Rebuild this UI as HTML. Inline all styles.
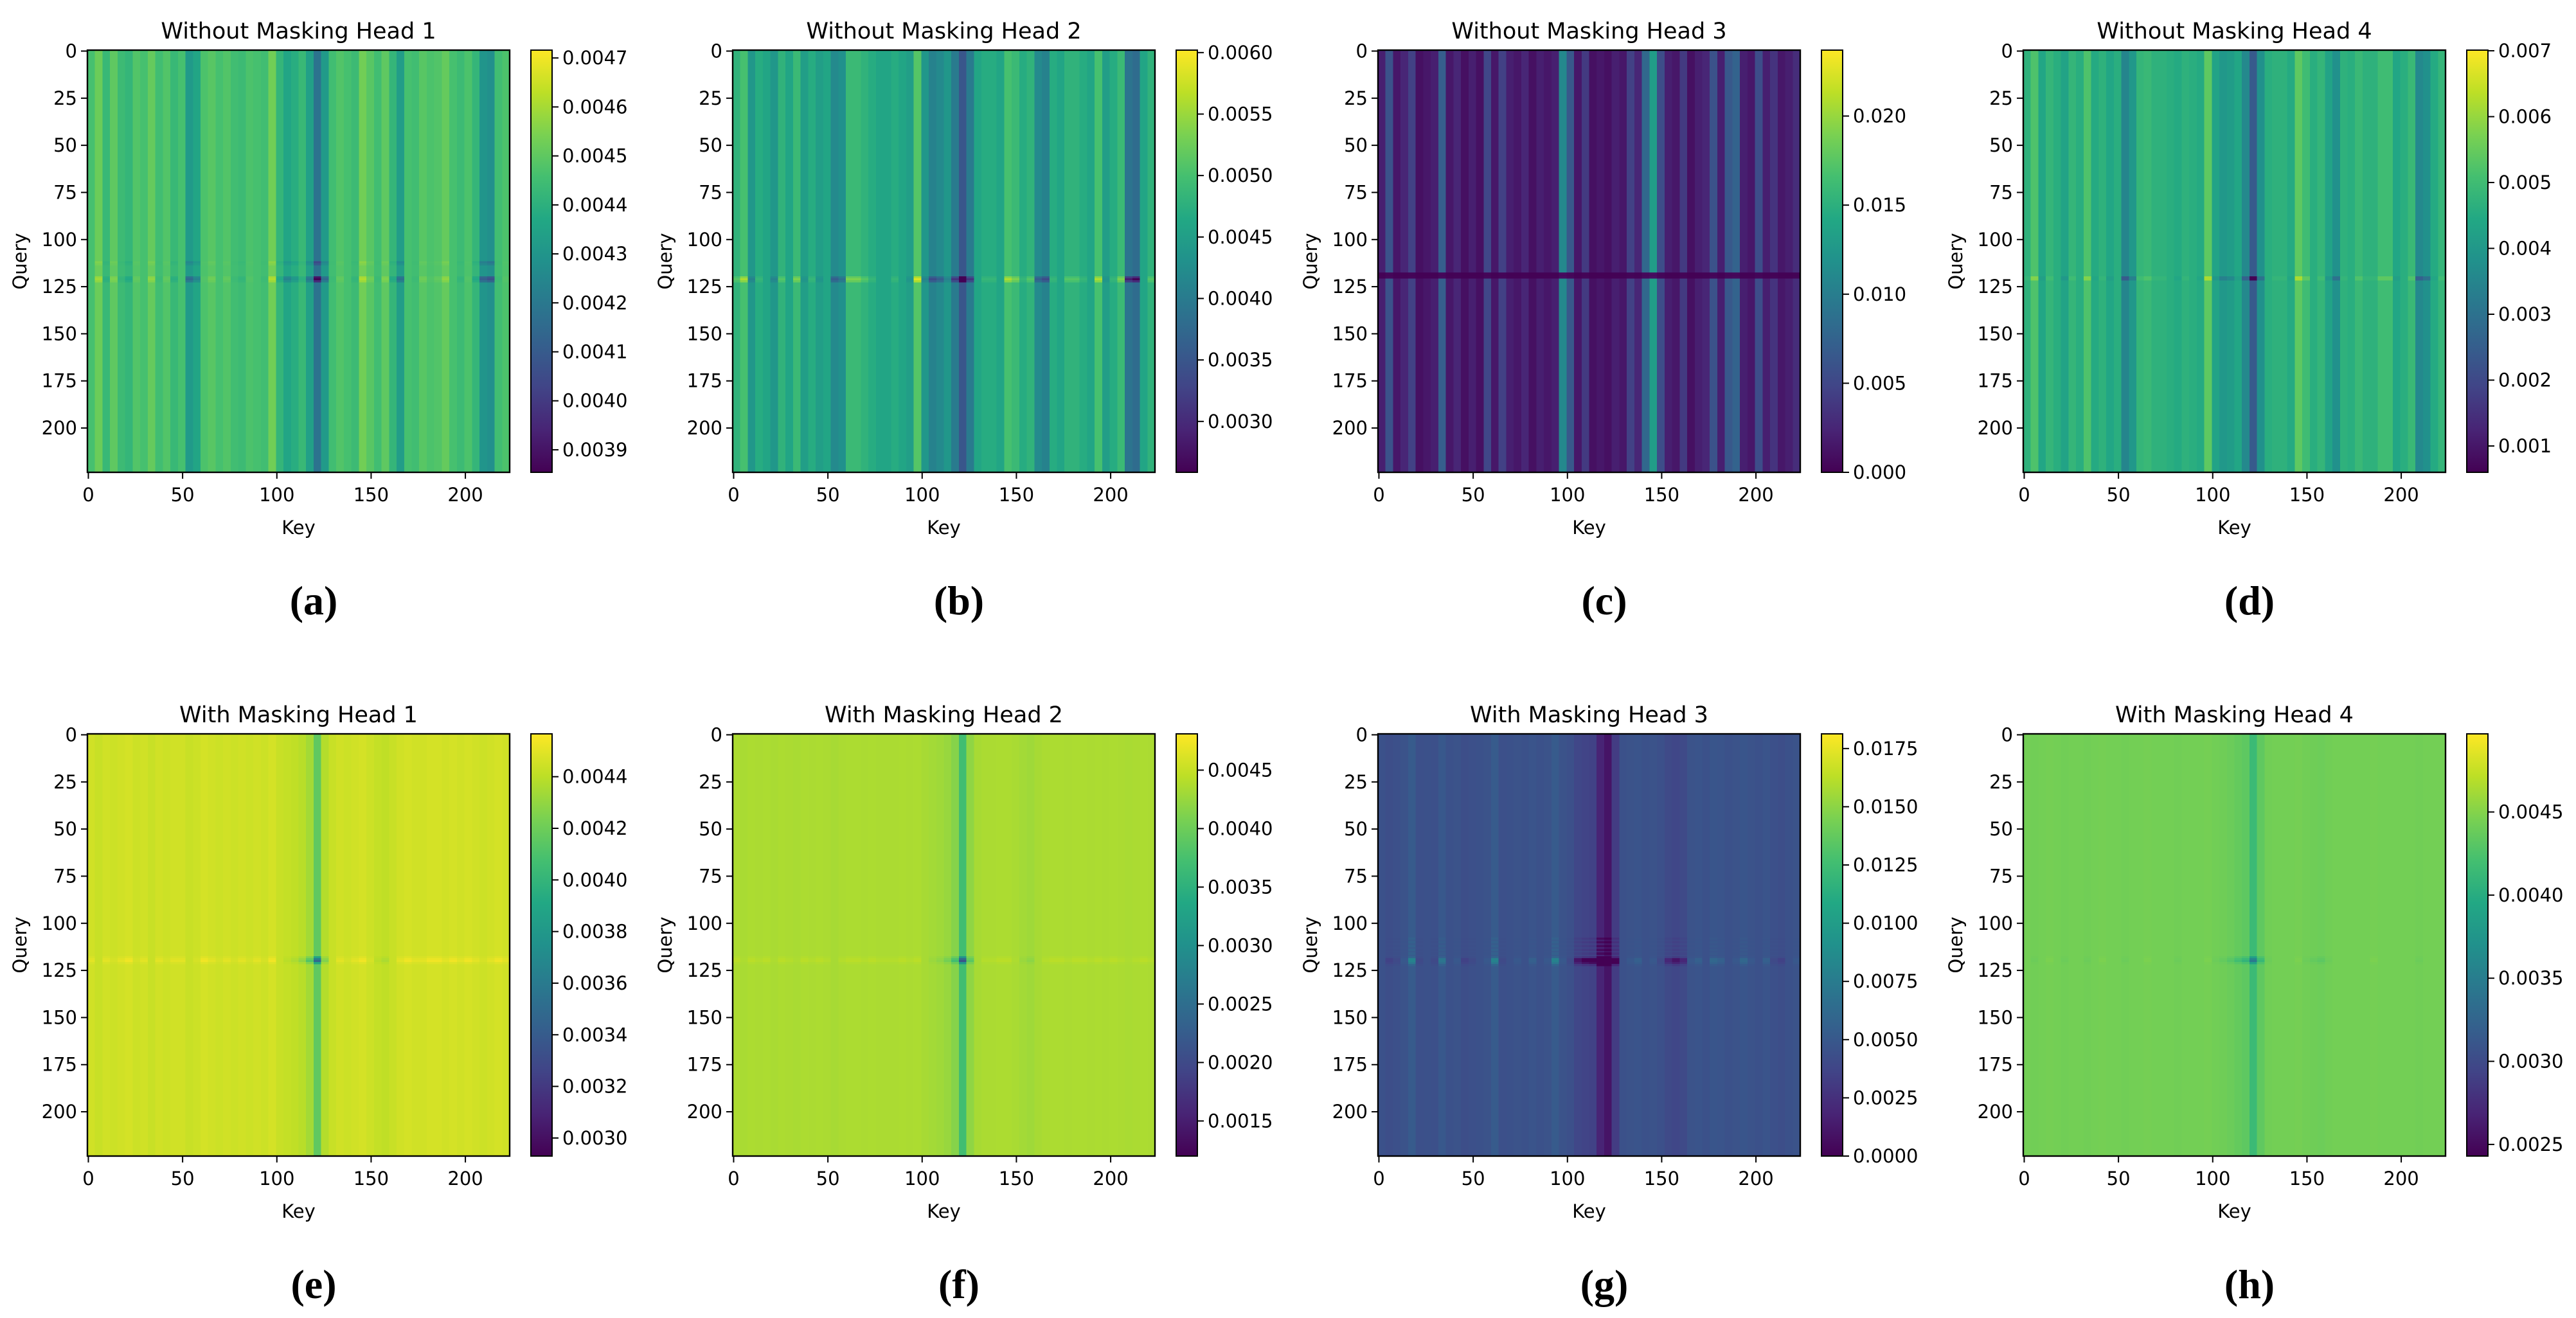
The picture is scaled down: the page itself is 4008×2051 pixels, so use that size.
<!DOCTYPE html>
<html><head><meta charset="utf-8"><style>
html,body{margin:0;padding:0;background:#fff}
svg{display:block}
text{font-family:"DejaVu Sans","Liberation Sans",sans-serif;fill:#000}
.cap{font-family:"Liberation Serif",serif;font-weight:bold;font-size:64px}
</style></head><body>
<svg id="fig" width="4008" height="2051" viewBox="0 0 4008 2051" xmlns="http://www.w3.org/2000/svg">
<defs>
<linearGradient id="vir" x1="0" y1="1" x2="0" y2="0">
<stop offset="0" stop-color="#440154"/><stop offset="0.1" stop-color="#482475"/><stop offset="0.2" stop-color="#414487"/><stop offset="0.3" stop-color="#355f8d"/><stop offset="0.4" stop-color="#2a788e"/><stop offset="0.5" stop-color="#21918c"/><stop offset="0.6" stop-color="#22a884"/><stop offset="0.7" stop-color="#44bf70"/><stop offset="0.8" stop-color="#7ad151"/><stop offset="0.9" stop-color="#bddf26"/><stop offset="1" stop-color="#fde725"/>
</linearGradient>
</defs>
</svg>
<script>
// values in units of 1e-4; each column-array entry covers 4 keys (56 bins x 4 = 224 keys)
const titles = ["Without Masking Head 1","Without Masking Head 2","Without Masking Head 3","Without Masking Head 4","With Masking Head 1","With Masking Head 2","With Masking Head 3","With Masking Head 4"];
const captions = ["(a)","(b)","(c)","(d)","(e)","(f)","(g)","(h)"];
const vmins = [38.54,25.86,0,6.0,29.3,12.0,0,24.3];
const vmaxs = [47.16,60.2,237,70.1,45.66,48.1,181.3,49.7];
const cbTicks = [
 [39,40,41,42,43,44,45,46,47],
 [30,35,40,45,50,55,60],
 [0,50,100,150,200],
 [10,20,30,40,50,60,70],
 [30,32,34,36,38,40,42,44],
 [15,20,25,30,35,40,45],
 [0,25,50,75,100,125,150,175],
 [25,30,35,40,45]
];
const cbTickLabels = [
 ["0.0039","0.0040","0.0041","0.0042","0.0043","0.0044","0.0045","0.0046","0.0047"],
 ["0.0030","0.0035","0.0040","0.0045","0.0050","0.0055","0.0060"],
 ["0.000","0.005","0.010","0.015","0.020"],
 ["0.001","0.002","0.003","0.004","0.005","0.006","0.007"],
 ["0.0030","0.0032","0.0034","0.0036","0.0038","0.0040","0.0042","0.0044"],
 ["0.0015","0.0020","0.0025","0.0030","0.0035","0.0040","0.0045"],
 ["0.0000","0.0025","0.0050","0.0075","0.0100","0.0125","0.0150","0.0175"],
 ["0.0025","0.0030","0.0035","0.0040","0.0045"]
];
const colA = [44.6,45.2,44.3,45,44.4,44.2,44.8,44.6,45.1,44.5,44.8,44.3,44.6,43.2,43.6,44.7,44.9,44.6,44.8,44.5,44.4,44.7,44.6,44.5,45.3,44.2,43.6,43.9,44.3,43.4,41.8,43.2,44.5,44.8,44.6,44.4,45.3,44.9,44.5,45.0,44.2,43.3,44.6,44.5,44.9,44.7,44.8,45.1,44.6,44.4,44.7,44.2,43.0,42.8,44.5,44.7];
const colB = [48,50,44,47,46,44,48,46,49,45,47,45,46,42,43,49,49,48,47,46,46,47,46,45,51,44,41,42,44,40,35,40,46,47,47,46,50,49,47,48,42,41,47,46,48,48,47,46,50,45,47,49,39,38,46,48];
const colC = [20,60,15,25,45,10,15,20,70,15,25,10,20,10,50,15,45,20,15,25,10,20,15,20,110,65,15,40,10,15,10,20,15,45,25,80,130,55,20,15,40,10,20,25,60,20,65,75,20,15,55,20,35,15,20,30];
const colD = [47,52,44,48,46,43,48,46,52,45,47,44,46,35,40,48,49,47,47,46,45,47,46,45,54,43,40,41,44,36,24,38,46,47,47,45,54,50,46,48,43,38,47,46,49,47,47,50,50,44,46,49,36,38,45,48];
const colE = [44.5,44.3,44.5,44.4,44.5,44.6,44.4,44.5,44.3,44.5,44.4,44.5,44.5,44.3,44.4,44.6,44.5,44.4,44.5,44.4,44.5,44.4,44.5,44.4,44.6,44.3,44.2,44.1,43.9,43.4,41.6,43.8,44.3,44.5,44.4,44.5,44.6,44.4,44.2,44.1,44.3,44.5,44.6,44.5,44.5,44.6,44.6,44.5,44.6,44.5,44.6,44.5,44.4,44.5,44.6,44.5];
const colF = [43.6,43.4,43.6,43.5,43.6,43.4,43.6,43.5,43.4,43.6,43.5,43.6,43.5,43.3,43.5,43.6,43.6,43.5,43.6,43.5,43.5,43.5,43.6,43.5,43.6,43.3,43.1,42.9,42.5,41.5,37.0,42.0,43.3,43.5,43.5,43.6,43.6,43.4,43.1,42.9,43.3,43.5,43.6,43.6,43.5,43.6,43.6,43.5,43.6,43.5,43.6,43.5,43.4,43.5,43.6,43.5];
const colG = [45,43,44,46,52,44,45,44,50,45,46,43,44,45,46,52,44,45,46,45,47,45,46,52,46,44,38,36,35,18,10,32,45,46,47,45,46,44,40,38,40,46,47,45,48,47,45,46,48,46,45,47,44,43,45,46];
const colH = [44.3,44.2,44.3,44.4,44.3,44.2,44.3,44.3,44.2,44.3,44.4,44.3,44.3,44.2,44.3,44.3,44.4,44.3,44.3,44.3,44.2,44.3,44.3,44.3,44.4,44.2,44.1,43.9,43.6,43.3,41.5,43.4,44.2,44.3,44.3,44.3,44.4,44.2,44.1,44.0,44.2,44.3,44.3,44.3,44.3,44.3,44.4,44.3,44.3,44.3,44.3,44.3,44.2,44.3,44.3,44.3];
const cols = [colA,colB,colC,colD,colE,colF,colG,colH];
const rowBase = [44.6,46,0,46,44.3,43.3,45,44.3];
const rowKeys = [
 [112,113,120,121,122],[120,121,122],[118,119,120],[120,121],
 [118,119,120,121],[118,119,120,121],[108,110,112,114,116,118,119,120,121,122],[118,119,120,121]
];
const rowGains = [
 [1.5,1.3,2,2.2,1.8],[2,2.5,2],[0.08,0.05,0.08],[2,2],
 [2,3,3.5,2],[2,3,3.5,2],[1.5,1.5,1.5,1.5,1.5,2,5,5,4,2],[2,3,3.5,2]
];
const xTicks=[0,50,100,150,200];
const yTicks=[0,25,50,75,100,125,150,175,200];

const NS="http://www.w3.org/2000/svg";
const svg=document.getElementById('fig');
const VS=[[0,'#440154'],[0.1,'#482475'],[0.2,'#414487'],[0.3,'#355f8d'],[0.4,'#2a788e'],[0.5,'#21918c'],[0.6,'#22a884'],[0.7,'#44bf70'],[0.8,'#7ad151'],[0.9,'#bddf26'],[1,'#fde725']];
function hx(h){return [parseInt(h.substr(1,2),16),parseInt(h.substr(3,2),16),parseInt(h.substr(5,2),16)];}
function viridis(t){t=Math.max(0,Math.min(1,t));for(let i=0;i<VS.length-1;i++){if(t<=VS[i+1][0]){const f=(t-VS[i][0])/(VS[i+1][0]-VS[i][0]);const a=hx(VS[i][1]),b=hx(VS[i+1][1]);return 'rgb('+a.map((v,k)=>Math.round(v+(b[k]-v)*f)).join(',')+')';}}return VS[10][1];}
function mk(tag,attrs,parent){const e=document.createElementNS(NS,tag);for(const k in attrs)e.setAttribute(k,attrs[k]);(parent||svg).appendChild(e);return e;}
function txt(s,attrs,parent){const e=mk('text',attrs,parent);e.textContent=s;return e;}

const N=224, SZ=657;
for(let p=0;p<8;p++){
  const c=p%4, r=Math.floor(p/4);
  const L=136+1004*c, T=78+1064*r;
  const unit=SZ/N;
  const xs=v=>L+(v+0.5)*unit;
  const ys=v=>T+(v+0.5)*unit;
  const g=mk('g',{});
  
  
  const hm=mk('g',{'shape-rendering':'crispEdges'},g);
  
  
  const col=cols[p], vmin=vmins[p], vmax=vmaxs[p];
  const colour=v=>viridis((v-vmin)/(vmax-vmin));
  const keyVal=j=>col[Math.floor(j/4)];
  for(let j=0;j<N;j++){
    const rc=mk('rect',{x:(xs(j)-unit/2).toFixed(2),y:T,width:(unit+0.6).toFixed(2),height:SZ,fill:colour(keyVal(j))},hm);
    
    
  }
  const rk=rowKeys[p], rg=rowGains[p], base=rowBase[p];
  for(let k=0;k<rk.length;k++){
    for(let j=0;j<N;j++){
      const v=base+(keyVal(j)-base)*rg[k];
      const rc=mk('rect',{x:(xs(j)-unit/2).toFixed(2),y:(ys(rk[k])-unit/2).toFixed(2),width:(unit+0.6).toFixed(2),height:(unit+0.6).toFixed(2),fill:colour(v)},hm);
      
      
    }
  }
  const fr=mk('rect',{x:L,y:T,width:SZ,height:SZ,fill:'none',stroke:'#000','stroke-width':2.4},g);
  
  
  const tt=txt(titles[p],{x:L+SZ/2,y:T-18,'text-anchor':'middle','font-size':35},g);
  
  
  for(const v of xTicks){
    mk('line',{x1:xs(v),x2:xs(v),y1:T+SZ,y2:T+SZ+10,stroke:'#000','stroke-width':2},g);
    const t=txt(String(v),{x:xs(v),y:T+SZ+45,'text-anchor':'middle','font-size':29},g);
    
    
  }
  for(const v of yTicks){
    mk('line',{x1:L-10,x2:L,y1:ys(v),y2:ys(v),stroke:'#000','stroke-width':2},g);
    const t=txt(String(v),{x:L-16,y:ys(v)+10,'text-anchor':'end','font-size':29},g);
    
    
  }
  const xl=txt('Key',{x:L+SZ/2,y:T+SZ+96,'text-anchor':'middle','font-size':29},g);
  
  
  const yl=txt('Query',{x:0,y:0,'text-anchor':'middle','font-size':29,transform:'translate('+(L-95)+','+(T+SZ/2)+') rotate(-90)'},g);
  
  
  const CX=L+690, CW=33;
  const cb=mk('rect',{x:CX,y:T,width:CW,height:SZ,fill:'url(#vir)',stroke:'#000','stroke-width':2},g);
  
  
  const cy=v=>T+SZ-(v-vmin)/(vmax-vmin)*SZ;
  cbTicks[p].forEach((v,i)=>{
    mk('line',{x1:CX+CW,x2:CX+CW+10,y1:cy(v),y2:cy(v),stroke:'#000','stroke-width':2},g);
    const t=txt(cbTickLabels[p][i],{x:CX+CW+16,y:cy(v)+10,'font-size':29},g);
    
    
  });
  const cp=txt(captions[p],{x:L+352,y:T+878,'text-anchor':'middle','class':'cap'},g);
  
  
}
</script>
</body></html>
